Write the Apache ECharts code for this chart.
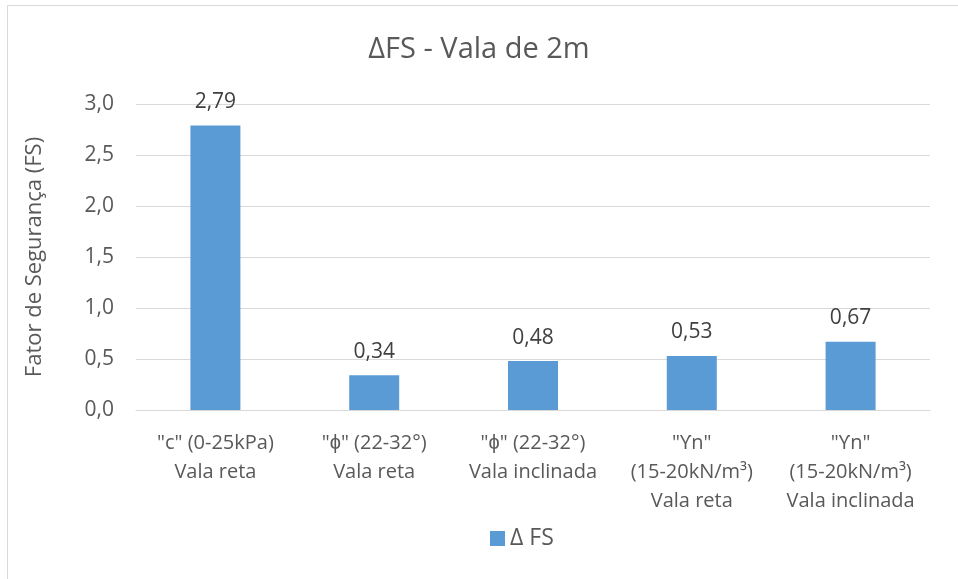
<!DOCTYPE html>
<html>
<head>
<meta charset="utf-8">
<script src="https://cdn.jsdelivr.net/npm/echarts@6/dist/echarts.min.js"></script>
<style>
  html, body { margin: 0; padding: 0; background: #fff; }
  #frame { position: absolute; left: 7px; top: 5px; width: 1000px; height: 700px;
           border-left: 1px solid #d9d9d9; border-top: 1px solid #d9d9d9; }
  #chart { position: absolute; left: 0; top: 0; width: 958px; height: 579px; }
</style>
</head>
<body>
<div id="frame"></div>
<div id="chart"></div>
<script>
// dados do gráfico
const categorias = [
  '"c" (0-25kPa)\nVala reta',
  '"ϕ" (22-32°)\nVala reta',
  '"ϕ" (22-32°)\nVala inclinada',
  '"ϒn"\n(15-20kN/m³)\nVala reta',
  '"ϒn"\n(15-20kN/m³)\nVala inclinada'
]
const deltaFS = [2.79, 0.34, 0.48, 0.53, 0.67]
const nomeSerie = 'Δ FS'

const fonte = '"Open Sans", sans-serif'
const cinza = '#595959'
const virgula = (v, d) => v.toFixed(d).replace('.', ',')

const mChart = echarts.init(document.getElementById('chart'))
const options = {
  animation: false,
  textStyle: { fontFamily: fonte },
  title: {
    text: 'ΔFS - Vala de 2m',
    left: 'center',
    top: 30,
    textStyle: { fontFamily: fonte, fontSize: 29, fontWeight: 'normal', color: cinza }
  },
  legend: {
    bottom: 24,
    left: 485,
    itemWidth: 15,
    itemHeight: 15,
    itemGap: 8,
    icon: 'rect',
    textStyle: { fontFamily: fonte, fontSize: 23, color: cinza }
  },
  grid: { left: 136, right: 28, top: 104, bottom: 169 },
  xAxis: {
    type: 'category',
    data: categorias,
    axisLine: { lineStyle: { color: '#d9d9d9' } },
    axisTick: { show: false },
    axisLabel: {
      color: cinza, fontFamily: fonte, fontSize: 20, lineHeight: 29,
      interval: 0, margin: 19, verticalAlign: 'top'
    }
  },
  yAxis: {
    type: 'value',
    min: 0,
    max: 3,
    interval: 0.5,
    name: 'Fator de Segurança (FS)',
    nameLocation: 'middle',
    nameGap: 90,
    nameTextStyle: { fontFamily: fonte, fontSize: 22, color: cinza },
    axisLine: { show: false },
    axisTick: { show: false },
    axisLabel: {
      color: cinza, fontFamily: fonte, fontSize: 21, margin: 22,
      formatter: v => virgula(v, 1)
    },
    splitLine: { lineStyle: { color: '#d9d9d9' } }
  },
  series: [
    {
      name: nomeSerie,
      type: 'bar',
      data: deltaFS,
      barWidth: 50,
      itemStyle: { color: '#5b9bd5' },
      label: {
        show: true,
        position: 'top',
        distance: 13,
        color: '#404040',
        fontFamily: fonte,
        fontSize: 21,
        formatter: p => virgula(p.value, 2)
      }
    }
  ]
}
mChart.setOption(options)
</script>
</body>
</html>
